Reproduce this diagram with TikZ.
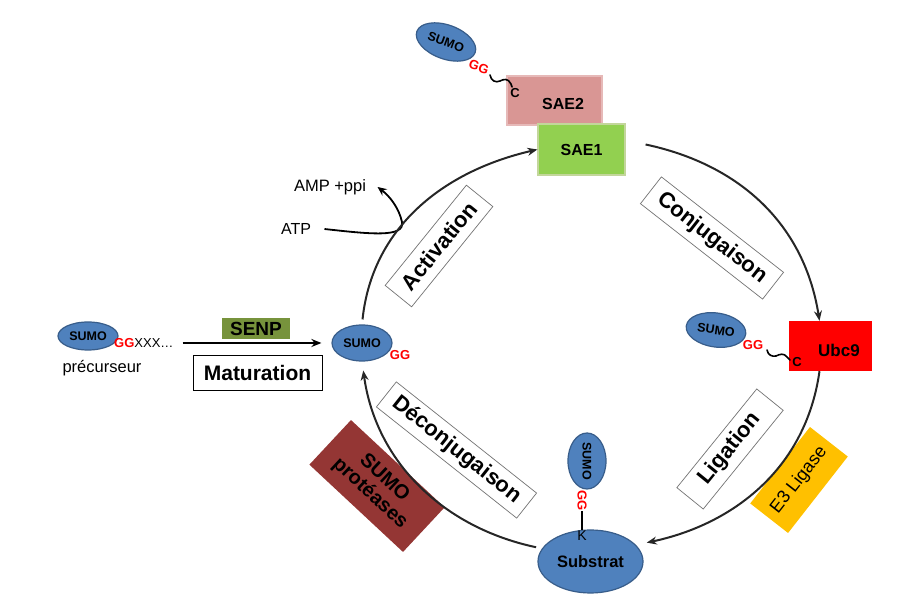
\documentclass[tikz,border=0pt]{standalone}
\usepackage{fontspec}
\setmainfont{Liberation Sans}
\usetikzlibrary{shapes.geometric,arrows.meta}

\definecolor{sumoblue}{HTML}{4F81BD}
\definecolor{sumoedge}{HTML}{385D8A}
\definecolor{saetwo}{HTML}{D99694}
\definecolor{saetwoedge}{HTML}{E6B9B8}
\definecolor{saeone}{HTML}{92D050}
\definecolor{saeoneedge}{HTML}{C3D69B}
\definecolor{senpgreen}{HTML}{77933C}
\definecolor{proteasered}{HTML}{943634}
\definecolor{ligaseyellow}{HTML}{FFC000}
\definecolor{ggred}{HTML}{FF0000}
\definecolor{cycleline}{HTML}{262626}

\newcommand{\fsize}[1]{\fontsize{#1}{#1}\selectfont}

\tikzset{
    sumo/.style={ellipse, draw=sumoedge, line width=1.2pt, fill=sumoblue, inner sep=0pt, font=\bfseries\fsize{12.5}},
    gg/.style={text=ggred, inner sep=0pt, font=\bfseries\fsize{13}},
    enzyme/.style={rectangle, inner sep=0pt, font=\bfseries\fsize{16}},
    phase/.style={rectangle, draw=black!55, line width=0.7pt, fill=white, inner sep=0pt, minimum height=34pt, font=\bfseries\fsize{22}},
    cyclearrow/.style={draw=cycleline, line width=2pt, -{Stealth[length=10pt,width=8pt]}},
    bond/.style={line width=1.6pt, line cap=round}
}

\begin{document}
\begin{tikzpicture}[x=1pt,y=1pt]

        \useasboundingbox (0,0) rectangle (906,613);

        % Precursor and maturation
        \node[sumo, minimum width=60pt, minimum height=28pt] (psumo) at (88,277) {SUMO};
        \node[anchor=west, inner sep=0pt, font=\fsize{13}] (pgg) at (114,270) {\textcolor{ggred}{\bfseries GG}XXX…};
        \node[font=\fsize{16.5}] (precur) at (102,245) {précurseur};
        \node[fill=senpgreen, minimum width=68pt, minimum height=21pt, inner sep=0pt, font=\bfseries\fsize{19}] (senp) at (256,284.5) {SENP};
        \node[draw, line width=0.8pt, minimum width=129pt, minimum height=35pt, inner sep=0pt, font=\bfseries\fsize{21}] (matur) at (257.5,240.5) {Maturation};

        % Mature SUMO
        \node[sumo, minimum width=60pt, minimum height=36pt] (msumo) at (362,270) {SUMO};
        \node[gg] (mgg) at (400,258) {GG};
        \draw[line width=2pt, -{Stealth[length=10pt,width=8pt]}, shorten <=9pt, shorten >=10pt] (pgg.east) -- (pgg.east -| msumo.west);

        % SAE2 / SAE1 complex
        \node[enzyme, fill=saetwo, draw=saetwoedge, line width=1.2pt, minimum width=95pt, minimum height=49pt] (sae2) at (554.5,512.5) {};
        \node[enzyme] (sae2txt) at (563,509) {SAE2};
        \node[enzyme, fill=saeone, draw=saeoneedge, line width=1.2pt, minimum width=87pt, minimum height=51pt] (sae1) at (581.5,463.5) {SAE1};
        \node[sumo, rotate=-20, minimum width=62pt, minimum height=34pt] (tsumo) at (446,571) {SUMO};
        \node[gg, rotate=-20] (tgg) at (479,546) {GG};
        \draw[bond] (490,538) .. controls (491,532) and (496,530) .. (500,532) .. controls (504,534) and (508,535) .. (511,529) -- (512,526);
        \node[inner sep=0pt, font=\bfseries\fsize{13}] (tc) at (515,520) {C};

        % ATP
        \node[font=\fsize{16}] (atp) at (296,384) {ATP};
        \node[font=\fsize{16.5}] (amp) at (330,426) {AMP +ppi};
        \draw[line width=1.8pt, -{Stealth[length=9pt,width=8pt]}] ([xshift=10pt]atp.east) .. controls +(45,-5) and +(3,-16) .. (402,391) .. controls +(-3,14) and +(12,-9) .. ([xshift=8pt]amp.east);

        % Ubc9
        \node[enzyme, fill=ggred, minimum width=83pt, minimum height=50pt] (ubc9) at (830.5,267) {};
        \node[enzyme, font=\bfseries\fsize{17}] (ubc9txt) at (839,263) {Ubc9};
        \node[sumo, rotate=-8, minimum width=60pt, minimum height=34pt] (usumo) at (716,283) {SUMO};
        \node[gg] (ugg) at (753,268) {GG};
        \draw[bond] (767,263) .. controls (768,258) and (772,256) .. (776,257) .. controls (780,259) and (784,260) .. (787,256) -- (790,253);
        \node[inner sep=0pt, font=\bfseries\fsize{13}] (uc) at (797,251) {C};

        % Substrate
        \node[sumo, minimum width=105pt, minimum height=63pt, font=\bfseries\fsize{16.5}] (sub) at (590.5,51.5) {Substrat};
        \node[sumo, rotate=-90, minimum width=56pt, minimum height=38pt] (ssumo) at (587,152) {SUMO};
        \node[gg, rotate=-90] (sgg) at (582,112) {GG};
        \node[inner sep=1pt, font=\fsize{14}] (sk) at (582,77) {K};
        \draw[line width=1.2pt] (sgg.east) -- (sk.north);

        % Enzymes along the cycle
        \node[fill=ligaseyellow, rotate=52, minimum width=97pt, minimum height=48pt, inner sep=0pt, font=\fsize{18}] (e3) at (799,133) {E3 Ligase};
        \node[fill=proteasered, rotate=-43, minimum width=128pt, minimum height=61pt, inner sep=0pt, align=center, font=\bfseries\fontsize{20}{21}\selectfont] (prot) at (377,127) {SUMO\\protéases};

        % Step labels
        \node[phase, rotate=51, minimum width=129pt] (act) at (439,367) {Activation};
        \node[phase, rotate=-38, minimum width=155pt] (conj) at (712,375) {Conjugaison};
        \node[phase, rotate=51, minimum width=127pt] (lig) at (730,164) {Ligation};
        \node[phase, rotate=-38.4, minimum width=179pt, minimum height=32pt] (deconj) at (456.5,163) {Déconjugaison};

        % Cycle arrows
        \draw[cyclearrow, shorten <=5pt] (msumo.north) to[out=84, in=193] (sae1.west);
        \draw[cyclearrow] ([xshift=20pt,yshift=5pt]sae1.east) to[out=-12, in=99] ([xshift=-11pt]ubc9.north);
        \draw[cyclearrow, shorten >=11pt] ([xshift=-11pt]ubc9.south) to[out=-98, in=12] (sub.20);
        \draw[cyclearrow, shorten <=6pt, shorten >=9pt] (sub.165) to[out=168, in=-82] (msumo.south);

    \end{tikzpicture}
\end{document}
